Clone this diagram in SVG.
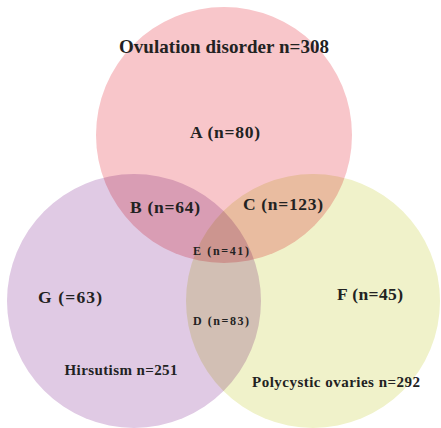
<svg xmlns="http://www.w3.org/2000/svg" width="441" height="428" viewBox="0 0 441 428">
<style>
.c{mix-blend-mode:multiply}
text{font-family:"Liberation Serif","DejaVu Serif",serif;font-weight:bold;fill:#222;text-anchor:middle}
.l{font-size:19px}
.m{font-size:17.5px}
.s{font-size:12px}
.t{font-size:15px}
</style>
<rect width="441" height="428" fill="#fff"/>
<g id="circles" style="isolation:isolate">
<rect width="441" height="428" fill="#fff"/>
<circle id="ovulation" class="c" cx="224" cy="135" r="128" fill="#f8c6ca"/>
<circle id="hirsutism" class="c" cx="134" cy="301" r="127" fill="#e0cae4"/>
<circle id="polycystic" class="c" cx="313" cy="301" r="127" fill="#f0f2ca"/>
</g>
<g id="labels">
<text class="l" x="224" y="53" textLength="210">Ovulation disorder n=308</text>
<text class="m" x="225" y="138" textLength="70">A (n=80)</text>
<text class="m" x="165" y="213" textLength="70">B (n=64)</text>
<text class="m" x="283" y="210" textLength="80">C (n=123)</text>
<text class="s" x="221" y="255" textLength="56">E (n=41)</text>
<text class="s" x="221" y="325" textLength="56">D (n=83)</text>
<text class="m" x="70" y="303" textLength="64">G (=63)</text>
<text class="m" x="370" y="300" textLength="66">F (n=45)</text>
<text class="t" x="121" y="375" textLength="113">Hirsutism n=251</text>
<text class="t" x="336" y="387" textLength="168">Polycystic ovaries n=292</text>
</g>
</svg>
